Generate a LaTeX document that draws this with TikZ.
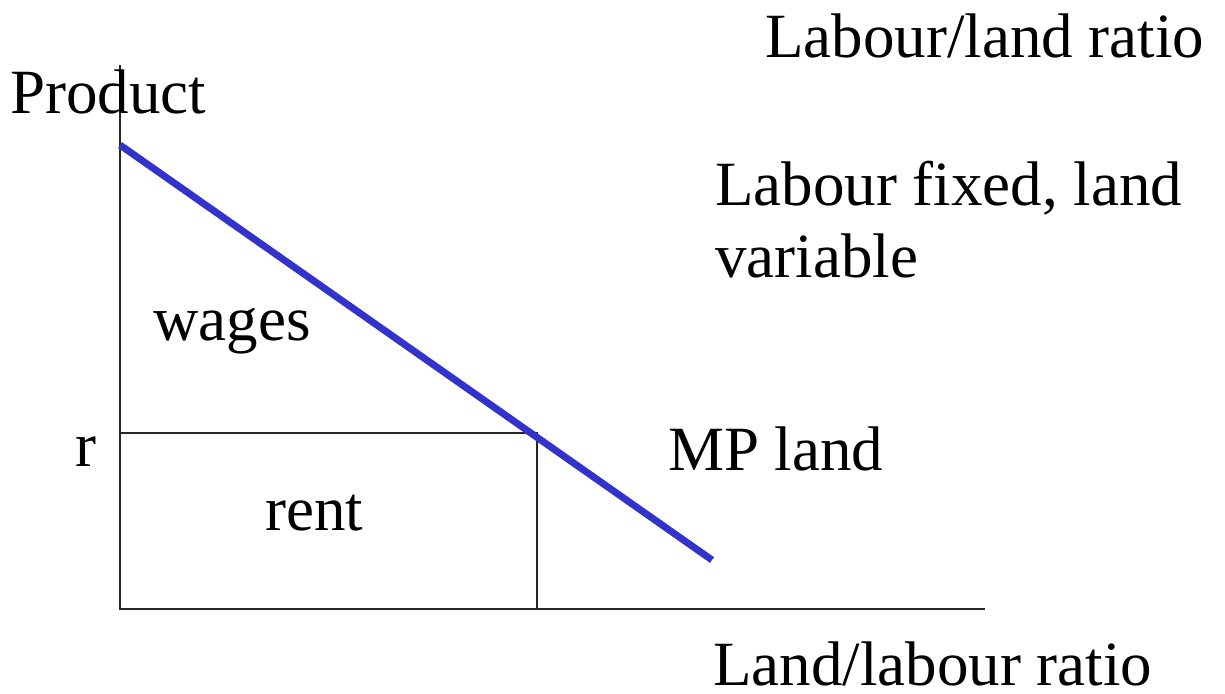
\documentclass[tikz,border=0pt]{standalone}
\usepackage{fontspec}
\setmainfont{Liberation Serif}
\definecolor{mpblue}{RGB}{51,51,204}
\begin{document}
\begin{tikzpicture}[x=1pt,y=-1pt,
  lbl/.style={anchor=base west,inner sep=0pt,font=\fontsize{63}{76}\selectfont},
  axis/.style={line width=2pt,black!85}]
\useasboundingbox (0,0) rectangle (1225,693);
\coordinate (ytop) at (120,65);
\coordinate (orig) at (120,609);
\coordinate (xend) at (985,609);
\coordinate (rr) at (120,433);
\coordinate (rc) at (537,433);
\coordinate (rb) at (537,609);
\coordinate (mps) at (120,145);
\coordinate (mpe) at (712,560);
\draw[axis] (ytop) -- (orig) -- (xend);
\draw[axis] (rr) -- (rc) -- (rb);
\draw[mpblue,line width=7pt] (mps) -- (mpe);
\node[lbl] (prod) at (10,113) {Product};
\node[lbl] (llr) at (765,57) {Labour/land ratio};
\node[lbl] (fix1) at (715,205) {Labour fixed, land};
\node[lbl] (fix2) at (715,277) {variable};
\node[lbl] (wages) at (153,340) {wages};
\node[lbl] (r) at (75,466) {r};
\node[lbl] (mpl) at (668,470) {MP land};
\node[lbl] (rent) at (265,530) {rent};
\node[lbl] (lab) at (713,685) {Land/labour ratio};
\end{tikzpicture}
\end{document}
